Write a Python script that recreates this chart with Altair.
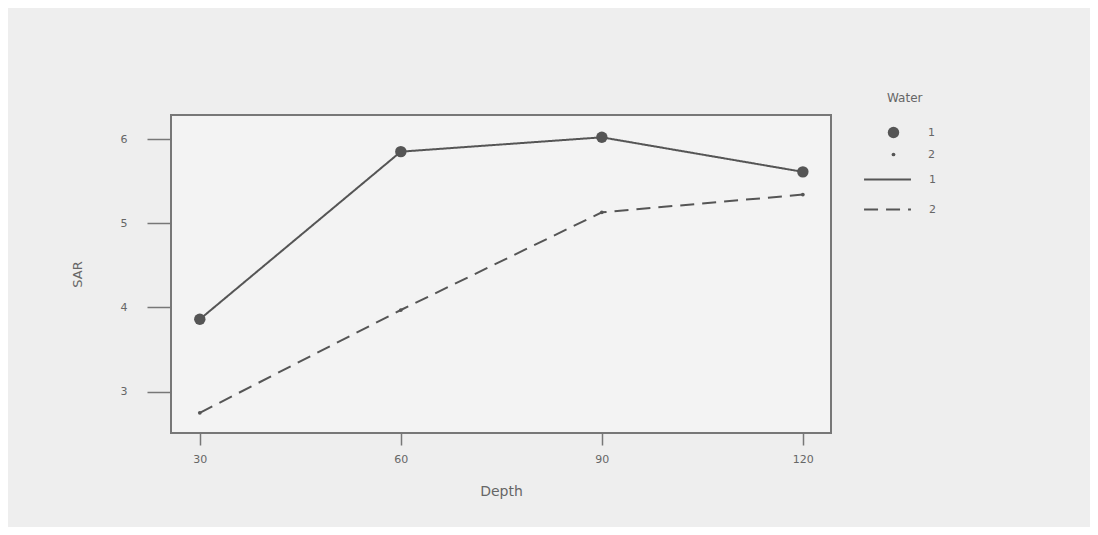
import altair as alt
import pandas as pd

# ---- data ----
depth = [30, 60, 90, 120]
sar_water1 = [3.86, 5.85, 6.02, 5.61]
sar_water2 = [2.75, 3.97, 5.13, 5.34]
water_levels = ["1", "2"]
x_ticks = [30, 60, 90, 120]
y_ticks = [3, 4, 5, 6]

rows = []
for level, series in zip(water_levels, [sar_water1, sar_water2]):
    for d, v in zip(depth, series):
        rows.append({"Depth": d, "SAR": v, "Water": level, "WaterLine": level})
df = pd.DataFrame(rows)

ink = "#555555"
txt = "#666666"
font = "DejaVu Sans"

x = alt.X(
    "Depth:Q",
    scale=alt.Scale(domain=[25.7, 124.2], nice=False, zero=False),
    axis=alt.Axis(
        values=x_ticks, format="d", title="Depth", grid=False, domain=False,
        tickSize=12, tickColor="#777777", tickWidth=1.5,
        labelPadding=8, labelFontSize=11, labelColor=txt, labelFont=font,
        titleFontSize=14, titleColor=txt, titleFont=font,
        titleFontWeight="normal", titlePadding=20,
    ),
)
y = alt.Y(
    "SAR:Q",
    scale=alt.Scale(domain=[2.51, 6.285], nice=False, zero=False),
    axis=alt.Axis(
        values=y_ticks, format="d", title="SAR", grid=False, domain=False,
        tickSize=24, tickColor="#777777", tickWidth=1.5,
        labelPadding=20, labelFontSize=11, labelColor=txt, labelFont=font,
        titleFontSize=13, titleColor=txt, titleFont=font,
        titleFontWeight="normal", titlePadding=36,
    ),
)

lines = alt.Chart(df).mark_line(color=ink, strokeWidth=2).encode(
    x=x, y=y,
    strokeDash=alt.StrokeDash(
        "WaterLine:N",
        scale=alt.Scale(domain=water_levels, range=[[1, 0], [14, 8]]),
        legend=alt.Legend(
            title=None, orient="none", legendX=692, legendY=40,
            symbolType="stroke", symbolSize=2200, symbolStrokeColor=ink,
            symbolStrokeWidth=2, labelFontSize=11, labelColor=txt,
            labelFont=font, labelOffset=17, rowPadding=-6,
        ),
    ),
)

points = alt.Chart(df).mark_point(filled=True, color=ink, opacity=1).encode(
    x=x, y=y,
    size=alt.Size(
        "Water:N",
        scale=alt.Scale(type="ordinal", domain=water_levels, range=[130, 14]),
        legend=alt.Legend(
            title="Water", orient="none", legendX=716, legendY=-22,
            titleFontSize=12, titleFontWeight="normal", titleColor=txt,
            titleFont=font, titlePadding=21, symbolFillColor=ink,
            symbolStrokeColor=ink, symbolOpacity=1, labelFontSize=11,
            labelColor=txt, labelFont=font, labelOffset=28, rowPadding=6,
        ),
    ),
)

chart = (
    alt.layer(lines, points)
    .resolve_legend(size="independent", strokeDash="independent")
    .properties(
        width=660, height=318,
        autosize=alt.AutoSizeParams(type="none"),
        padding={"left": 163, "top": 107, "right": 259, "bottom": 94},
        background="#eeeeee",
    )
    .configure_view(stroke="#777777", strokeWidth=2, fill="#f3f3f3")
)

chart.save("out.html", embed_options={"renderer": "svg", "actions": False})
